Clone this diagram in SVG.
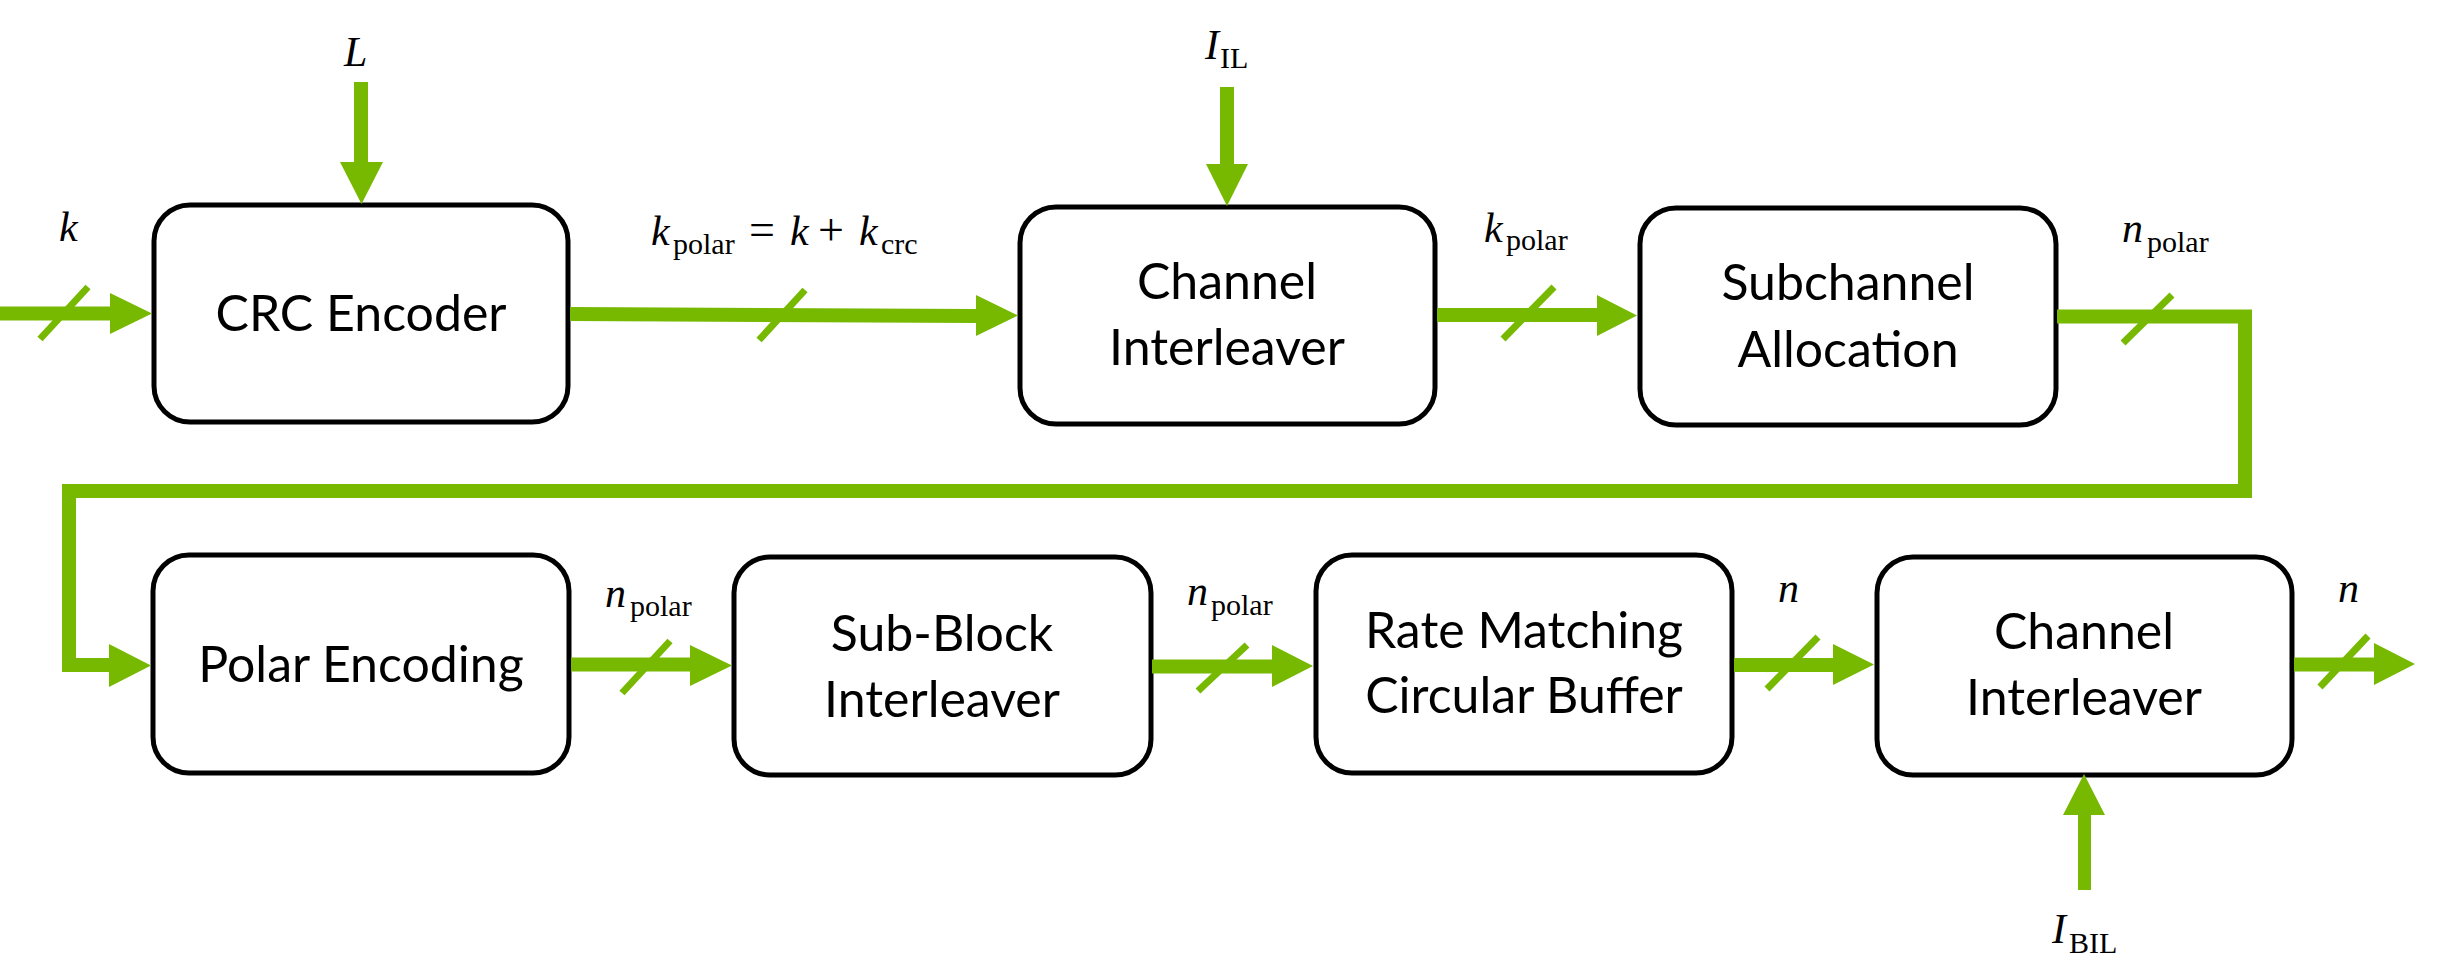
<svg xmlns="http://www.w3.org/2000/svg" width="2461" height="976" viewBox="0 0 2461 976">
<style>
.box{fill:#fff;stroke:#000;stroke-width:5}
.lbl{font-family:Lato,"Liberation Sans",sans-serif;font-size:50px;text-anchor:middle;fill:#000}
.arr{fill:#76B900}
.line{fill:none;stroke:#76B900;stroke-width:14;stroke-linejoin:miter}
.sl{stroke:#76B900;stroke-width:7}
.m{font-family:"Liberation Serif",serif;font-style:italic;font-size:42px;fill:#000}
.s{font-style:normal;font-size:30px}
.u{font-style:normal;font-size:46px}
</style>
<rect width="2461" height="976" fill="#fff"/>
<g id="crc-encoder"><rect class="box" x="154" y="205" width="414" height="217" rx="36"/><text class="lbl" x="361" y="331">CRC Encoder</text></g>
<g id="channel-interleaver-1"><rect class="box" x="1020" y="207" width="415" height="217" rx="36"/><text class="lbl" x="1227" y="299">Channel</text><text class="lbl" x="1227" y="365">Interleaver</text></g>
<g id="subchannel-allocation"><rect class="box" x="1640" y="208" width="416" height="217" rx="36"/><text class="lbl" x="1848" y="300">Subchannel</text><text class="lbl" x="1848" y="367">Allocation</text></g>
<g id="polar-encoding"><rect class="box" x="153" y="555" width="416" height="218" rx="36"/><text class="lbl" x="361" y="682">Polar Encoding</text></g>
<g id="sub-block-interleaver"><rect class="box" x="734" y="557" width="417" height="218" rx="36"/><text class="lbl" x="942" y="651">Sub-Block</text><text class="lbl" x="942" y="717">Interleaver</text></g>
<g id="rate-matching"><rect class="box" x="1316" y="555" width="416" height="218" rx="36"/><text class="lbl" x="1524" y="648">Rate Matching</text><text class="lbl" x="1524" y="713">Circular Buffer</text></g>
<g id="channel-interleaver-2"><rect class="box" x="1877" y="557" width="415" height="218" rx="36"/><text class="lbl" x="2084" y="649">Channel</text><text class="lbl" x="2084" y="715">Interleaver</text></g>
<g id="connectors">
<polygon class="arr" points="0,306.5 110,306.5 110,293 152,313.5 110,334 110,320.5 0,320.5"/>
<polygon class="arr" points="354,82 368,82 368,162 383,162 361.5,204 340,162 354,162"/>
<polygon class="arr" points="570,307 976,309 976,295 1018,315.5 976,336 976,323 570,321"/>
<polygon class="arr" points="1220,87 1234,87 1234,164 1248,164 1227,206 1206,164 1220,164"/>
<polygon class="arr" points="1437,308 1597,308 1597,295 1637,315.5 1597,336 1597,322 1437,322"/>
<path class="line" d="M2057,316.5 H2245 V491 H69 V665 H110"/>
<polygon class="arr" points="109,644 151,665.5 109,687"/>
<polygon class="arr" points="571,657.5 690,657.5 690,645 732,665.5 690,686 690,671.5 571,671.5"/>
<polygon class="arr" points="1152,659.5 1272,659.5 1272,645 1313,666 1272,687 1272,673.5 1152,673.5"/>
<polygon class="arr" points="1734,658 1833,658 1833,644 1874,664.5 1833,685 1833,672 1734,672"/>
<polygon class="arr" points="2294,657.5 2374,657.5 2374,643 2415,664 2374,685 2374,671.5 2294,671.5"/>
<polygon class="arr" points="2078,890 2091,890 2091,815 2105,815 2084,774 2063,815 2078,815"/>
<line class="sl" x1="40" y1="339" x2="88" y2="287"/>
<line class="sl" x1="759" y1="340" x2="805" y2="290"/>
<line class="sl" x1="1503" y1="339" x2="1554" y2="287"/>
<line class="sl" x1="2123" y1="343" x2="2172" y2="295"/>
<line class="sl" x1="622" y1="693" x2="670" y2="641"/>
<line class="sl" x1="1198" y1="691" x2="1247" y2="645"/>
<line class="sl" x1="1767" y1="689" x2="1818" y2="637"/>
<line class="sl" x1="2320" y1="687" x2="2368" y2="636"/>
</g>
<g id="labels">
<text class="m" x="344" y="66">L</text>
<text class="m" x="59" y="241">k</text>
<text class="m" x="651" y="245">k<tspan class="s" x="673" y="254">polar</tspan><tspan class="u" x="749" y="245">=</tspan><tspan x="790" y="245">k</tspan><tspan class="u" x="818" y="245">+</tspan><tspan x="859" y="245">k</tspan><tspan class="s" x="881" y="254">crc</tspan></text>
<text class="m" x="1205" y="59">I<tspan class="s" x="1220" y="68">IL</tspan></text>
<text class="m" x="1484" y="242">k<tspan class="s" x="1506" y="250">polar</tspan></text>
<text class="m" x="2122" y="242">n<tspan class="s" x="2147" y="252">polar</tspan></text>
<text class="m" x="605" y="607">n<tspan class="s" x="630" y="616">polar</tspan></text>
<text class="m" x="1187" y="605">n<tspan class="s" x="1211" y="615">polar</tspan></text>
<text class="m" x="1778" y="602">n</text>
<text class="m" x="2338" y="602">n</text>
<text class="m" x="2052" y="943">I<tspan class="s" x="2069" y="953">BIL</tspan></text>
</g>
</svg>
